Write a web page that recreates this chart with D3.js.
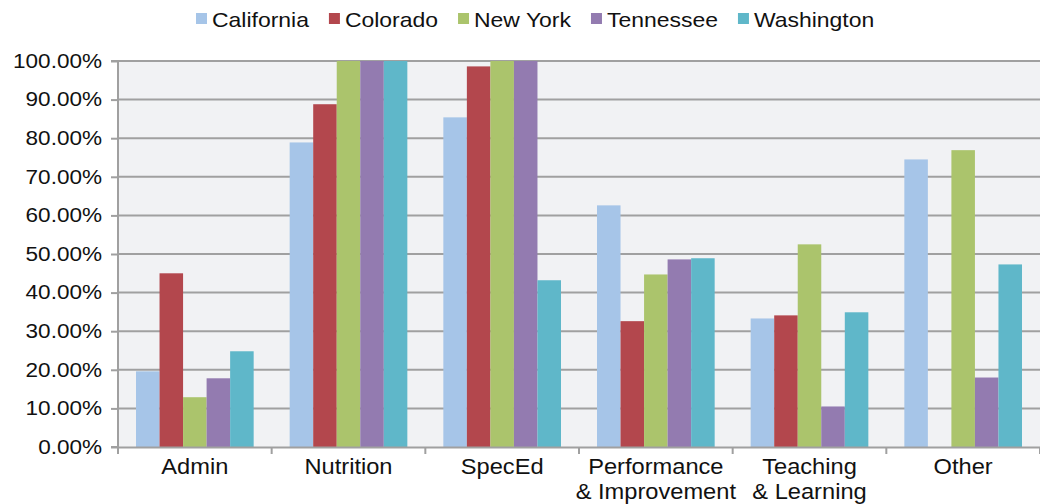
<!DOCTYPE html>
<html><head><meta charset="utf-8">
<script src="https://cdn.jsdelivr.net/npm/d3@7"></script>
<style>body{margin:0;background:#fff}svg{display:block}text{font-family:"Liberation Sans",Arial,sans-serif;fill:#111}</style>
</head><body><svg id="c" width="1040" height="504"></svg>
<script>
const categories = [["Admin"],["Nutrition"],["SpecEd"],["Performance","& Improvement"],["Teaching","& Learning"],["Other"]];
const series = ["California","Colorado","New York","Tennessee","Washington"];
const colors = ["#a6c5e8","#b3474d","#abc46c","#937bb0","#5fb7c9"];
const California = [19.6,78.9,85.4,62.6,33.3,74.5];
const Colorado   = [45.0,88.8,98.6,32.6,34.1,0];
const NewYork    = [12.9,100,100,44.7,52.5,76.9];
const Tennessee  = [17.8,100,100,48.6,10.5,18.0];
const Washington = [24.8,100,43.2,48.9,34.9,47.3];
const values = [California,Colorado,NewYork,Tennessee,Washington];
const yTicks = [0,10,20,30,40,50,60,70,80,90,100];

const svg = d3.select("#c");
const L=118,R=1040,T=61,B=447;
const catKeys = categories.map(c=>c.join(" "));
const x0 = d3.scaleBand().domain(catKeys).range([L,R]);
const x1 = d3.scaleBand().domain(series).range([18,x0.bandwidth()-18]);
const y = d3.scaleLinear().domain([0,100]).range([B,T]);
const GRID="#a0a0a0";

svg.append("rect").attr("x",L).attr("y",T).attr("width",R-L).attr("height",B-T).attr("fill","#f1f2f4");
svg.append("g").selectAll("line").data(yTicks.filter(d=>d>0)).join("line")
  .attr("x1",L).attr("x2",R).attr("y1",d=>y(d)).attr("y2",d=>y(d))
  .attr("stroke",GRID).attr("stroke-width",2);
const g = svg.append("g");
series.forEach((s,i)=>{
  g.selectAll(null).data(values[i]).join("rect")
   .attr("x",(d,j)=>x0(catKeys[j])+x1(s))
   .attr("width",x1.bandwidth())
   .attr("y",d=>y(d)).attr("height",d=>B-y(d))
   .attr("fill",colors[i]);
});
// y axis
const ys = 1.15;
const ya = svg.append("g").attr("transform",`translate(${L},0)`)
  .call(d3.axisLeft(y).tickValues(yTicks).tickSize(7).tickPadding(9).tickFormat(d=>d3.format(".2f")(d)+"%"));
ya.select(".domain").attr("stroke",GRID).attr("stroke-width",2).attr("d",`M-7,${B}H0V${T}H-7`);
ya.selectAll(".tick line").attr("stroke",GRID).attr("stroke-width",2);
ya.selectAll(".tick text").attr("font-size",19.6).attr("font-family","'Liberation Sans',sans-serif").attr("fill","#111")
  .attr("x",-16/ys).attr("transform",`scale(${ys},1)`);
// x axis
const xa = svg.append("g").attr("transform",`translate(0,${B})`)
  .call(d3.axisBottom(x0).tickSize(0).tickFormat(""));
xa.select(".domain").attr("stroke",GRID).attr("stroke-width",2);
const xt = d3.range(categories.length+1).map(i=>L+i*x0.step());
svg.append("g").selectAll("line").data(xt).join("line")
  .attr("x1",d=>d).attr("x2",d=>d).attr("y1",B).attr("y2",B+7)
  .attr("stroke",GRID).attr("stroke-width",2);
const xs = 1.1;
categories.forEach((lines,i)=>{
  lines.forEach((t,k)=>{
    svg.append("text").attr("text-anchor","middle").attr("font-size",21.5)
      .attr("transform",`translate(${x0(catKeys[i])+x0.bandwidth()/2},${474+k*25}) scale(${xs},1)`)
      .text(t);
  });
});
// legend
const ls = 1.12;
let lx = 196;
series.forEach((s,i)=>{
  const item = svg.append("g").attr("transform",`translate(${lx},0)`);
  item.append("rect").attr("x",0).attr("y",13).attr("width",11).attr("height",11).attr("fill",colors[i]);
  const t = item.append("text").attr("font-size",20.5).attr("transform",`translate(16,27.3) scale(${ls},1)`).text(s);
  lx += 16 + t.node().getComputedTextLength()*ls + 20;
});
</script></body></html>
